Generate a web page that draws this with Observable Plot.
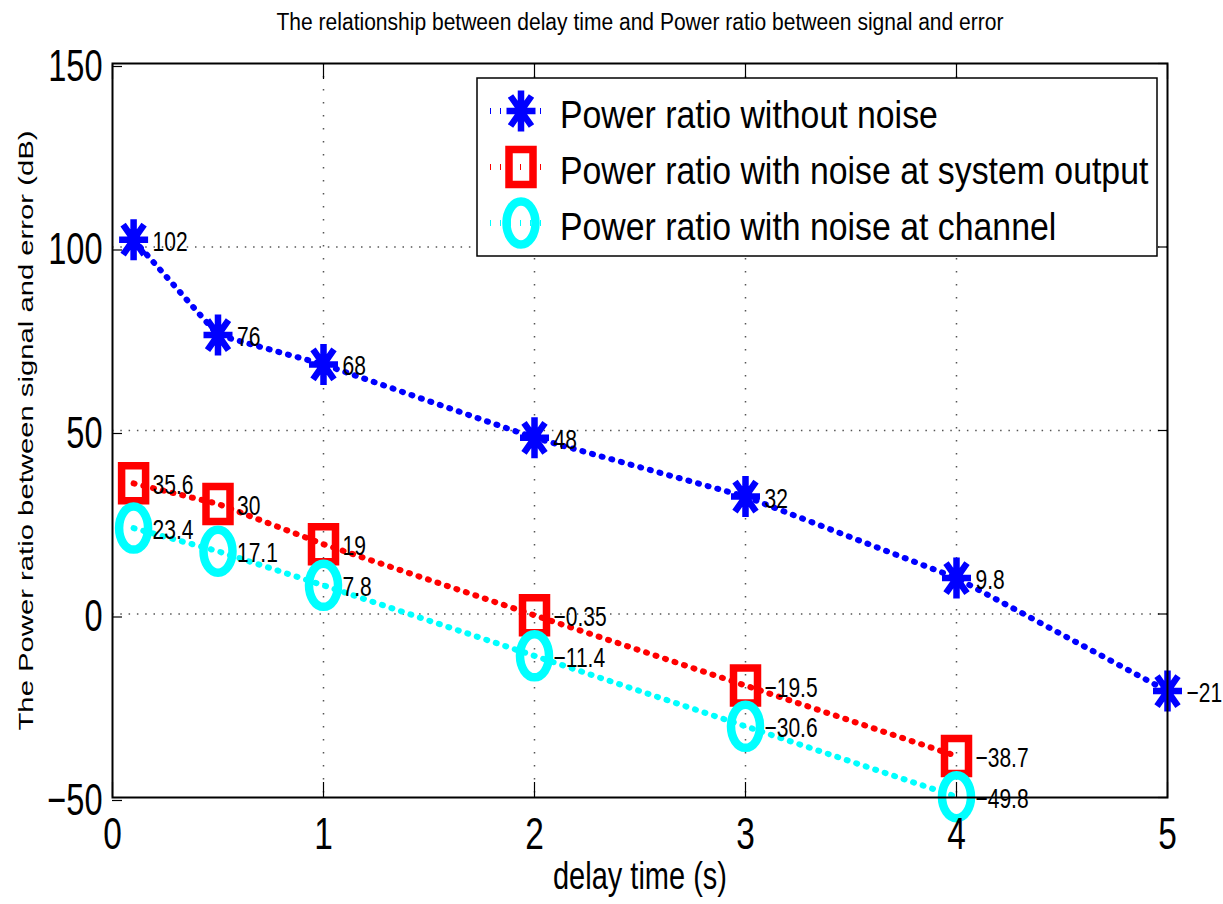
<!DOCTYPE html>
<html><head><meta charset="utf-8">
<script src="https://cdn.jsdelivr.net/npm/d3@7"></script>
<script src="https://cdn.jsdelivr.net/npm/@observablehq/plot@0.6"></script>
<style>body{margin:0;background:#fff}</style>
</head><body><div id="chart"></div>
<script>
const delays = [0.1, 0.5, 1, 2, 3, 4, 5];
const seriesNames = ["Power ratio without noise", "Power ratio with noise at system output", "Power ratio with noise at channel"];
const seriesColors = ["#0000ff", "#ff0000", "#00ffff"];
const noNoise = [102, 76, 68, 48, 32, 9.8, -21];
const outputNoise = [35.6, 30, 19, -0.35, -19.5, -38.7];
const channelNoise = [23.4, 17.1, 7.8, -11.4, -30.6, -49.8];
const xTicks = [0, 1, 2, 3, 4, 5];
const yTicks = [-50, 0, 50, 100, 150];
const xGrid = [1, 2, 3, 4];
const yGrid = [0, 50, 100];
const titleText = "The relationship between delay time and Power ratio between signal and error";
const xLabel = "delay time (s)";
const yLabel = "The Power ratio between signal and error (dB)";

const series = [noNoise, outputNoise, channelNoise];
const rows = series.map((vals, s) => vals.map((v, i) => ({x: delays[i], y: v, s})));
const fmt = v => (v < 0 ? "\u2212" + Math.abs(v) : String(v));

function ellipse(ctx, rx, ry) {
  const k = 0.5523;
  ctx.moveTo(rx, 0);
  ctx.bezierCurveTo(rx, ry * k, rx * k, ry, 0, ry);
  ctx.bezierCurveTo(-rx * k, ry, -rx, ry * k, -rx, 0);
  ctx.bezierCurveTo(-rx, -ry * k, -rx * k, -ry, 0, -ry);
  ctx.bezierCurveTo(rx * k, -ry, rx, -ry * k, rx, 0);
  ctx.closePath();
}
const starSym = {draw(ctx) {
  const w = 14.5, h = 20.5, dw = 10.5, dh = 15;
  ctx.moveTo(-w, 0); ctx.lineTo(w, 0);
  ctx.moveTo(0, -h); ctx.lineTo(0, h);
  ctx.moveTo(-dw, -dh); ctx.lineTo(dw, dh);
  ctx.moveTo(-dw, dh); ctx.lineTo(dw, -dh);
}};
const squareSym = {draw(ctx) { ctx.rect(-12, -17.5, 24, 35); }};
const circleSym = {draw(ctx) { ellipse(ctx, 14.5, 21.5); }};
const symbols = [starSym, squareSym, circleSym];
const symbolWidths = [6.5, 7.5, 8.5];
const lineDash = "1,9";
const lineWidth = 6;

function legendMark() {
  const g = d3.create("svg:g").attr("aria-label", "legend");
  g.append("rect").attr("x", 477).attr("y", 78).attr("width", 680).attr("height", 178)
    .attr("fill", "white").attr("stroke", "black").attr("stroke-width", 1.5);
  seriesNames.forEach((name, s) => {
    const cy = 111 + s * 56;
    g.append("line").attr("x1", 490).attr("x2", 548).attr("y1", cy).attr("y2", cy)
      .attr("stroke", seriesColors[s]).attr("stroke-width", lineWidth).attr("stroke-dasharray", lineDash);
    const p = d3.path(); symbols[s].draw(p);
    g.append("path").attr("d", p.toString()).attr("transform", `translate(521,${cy})`)
      .attr("fill", "none").attr("stroke", seriesColors[s]).attr("stroke-width", symbolWidths[s])
      .attr("stroke-linejoin", "miter");
    g.append("text").attr("x", 560).attr("y", cy + 16.5).attr("font-size", 38)
      .attr("text-anchor", "start").attr("fill", "black").attr("data-fit", 0.89).text(name);
  });
  return g.node();
}

const marks = [
  Plot.gridX(xGrid, {stroke: "#555", strokeOpacity: 1, strokeWidth: 1.5, strokeDasharray: "1.5,11.5"}),
  Plot.gridY(yGrid, {stroke: "#555", strokeOpacity: 1, strokeWidth: 1.5, strokeDasharray: "1.5,6.8"}),
  ...rows.map((r, s) => Plot.line(r, {x: "x", y: "y", stroke: seriesColors[s], strokeWidth: lineWidth, strokeDasharray: lineDash})),
  ...rows.map((r, s) => Plot.dot(r, {x: "x", y: "y", symbol: symbols[s], r: 10, fill: "none", stroke: seriesColors[s], strokeWidth: symbolWidths[s], strokeLinejoin: "miter"})),
  ...rows.map((r) => Plot.text(r, {x: "x", y: "y", text: d => fmt(d.y), dx: 19, dy: 2, textAnchor: "start", lineAnchor: "middle", fontSize: 28, fill: "black"})),
  Plot.frame({stroke: "black", strokeWidth: 2}),
  Plot.axisX({ticks: xTicks, tickSize: -15, tickPadding: 35, fontSize: 44, label: null, strokeWidth: 1.2, tickFormat: d => String(d)}),
  Plot.axisX({anchor: "top", ticks: xTicks, tickSize: -15, label: null, strokeWidth: 1.2, tickFormat: () => ""}),
  Plot.axisY({ticks: yTicks, tickSize: -10, tickPadding: 20, fontSize: 44, label: null, strokeWidth: 1.2, dy: 3}),
  Plot.axisY({anchor: "right", ticks: yTicks, tickSize: -10, label: null, strokeWidth: 1.2, tickFormat: () => ""}),
  Plot.text([titleText], {frameAnchor: "top", dy: -41, lineAnchor: "middle", textAnchor: "middle", fontSize: 23, fill: "black"}),
  Plot.text([xLabel], {frameAnchor: "bottom", dy: 79, lineAnchor: "middle", textAnchor: "middle", fontSize: 38, fill: "black"}),
  Plot.text([yLabel], {frameAnchor: "left", dx: -86, rotate: -90, lineAnchor: "middle", textAnchor: "middle", fontSize: 21, fill: "black"}),
  legendMark
];

const chart = Plot.plot({
  width: 1223,
  height: 904,
  marginTop: 63,
  marginRight: 56,
  marginBottom: 107,
  marginLeft: 112,
  style: {fontFamily: "'Liberation Sans', Arial, sans-serif", background: "white", color: "black", overflow: "visible"},
  x: {domain: [0, 5]},
  y: {domain: [-50, 150]},
  marks
});
document.getElementById("chart").appendChild(chart);

function squeeze(t, factor, absolute) {
  const L = t.getComputedTextLength();
  if (!L) return;
  t.setAttribute("textLength", absolute != null ? absolute : L * factor);
  t.setAttribute("lengthAdjust", "spacingAndGlyphs");
}
chart.querySelectorAll('g[aria-label="y-axis tick label"] text').forEach(t => squeeze(t, 0.74));
chart.querySelectorAll('g[aria-label="x-axis tick label"] text').forEach(t => squeeze(t, 0.76));
const textGroups = [...chart.querySelectorAll('g[aria-label="text"]')];
textGroups.forEach(g => {
  const fs = +g.getAttribute("font-size");
  g.querySelectorAll("text").forEach(t => {
    if (fs === 28) squeeze(t, 0.75);
    else if (fs === 23) squeeze(t, null, 727);
    else if (fs === 38) squeeze(t, null, 174);
    else if (fs === 21) squeeze(t, null, 600);
  });
});
chart.querySelectorAll("text[data-fit]").forEach(t => squeeze(t, +t.getAttribute("data-fit")));
</script>
</body></html>
